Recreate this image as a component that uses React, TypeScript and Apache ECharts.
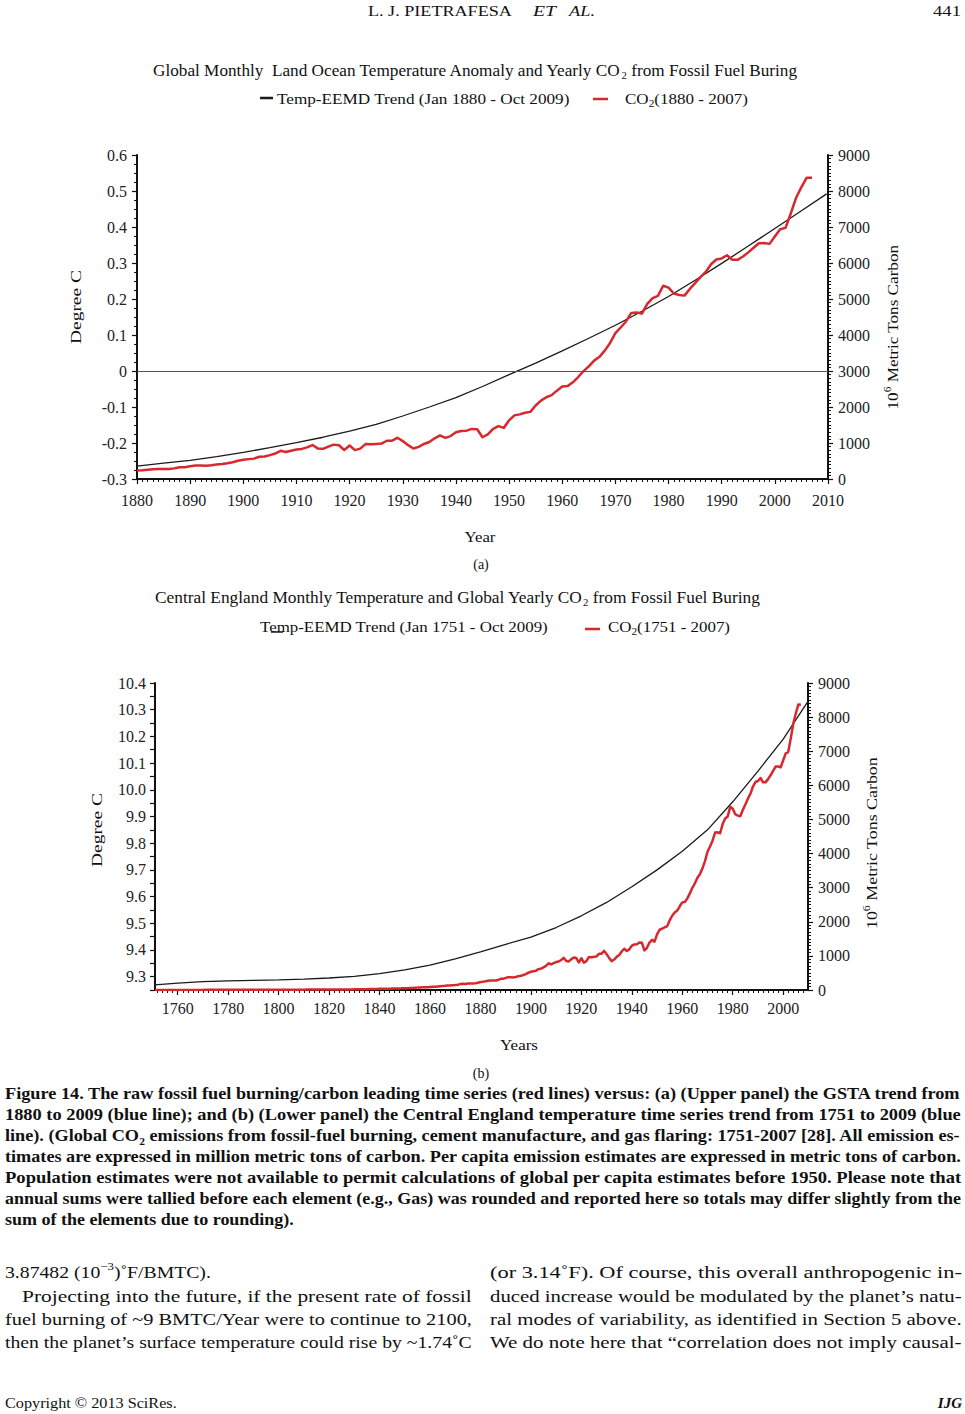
import React, { useEffect, useRef } from "react";
import * as echarts from "echarts";

const SERIF = "Liberation Serif, Times New Roman, serif";
const RED = "#d8282d";
const BLACK = "#1a1a1a";

// Global CO2 emissions from fossil fuel burning, 10^6 metric tons carbon, yearly 1751-2007
const co2StartYear = 1751;
const co2Values = [
  3, 3, 3, 3, 3, 3, 3, 3, 3, 3,
  3, 3, 3, 3, 3, 3, 3, 3, 3, 3,
  4, 4, 4, 4, 4, 4, 4, 4, 4, 4,
  5, 5, 5, 5, 5, 5, 5, 5, 5, 5,
  6, 6, 6, 6, 7, 7, 7, 8, 8, 8,
  8, 8, 8, 9, 9, 9, 10, 10, 10, 10,
  11, 11, 11, 11, 12, 13, 14, 14, 14, 14,
  14, 15, 16, 16, 17, 17, 18, 18, 18, 24,
  23, 23, 24, 24, 25, 29, 29, 30, 31, 33,
  34, 36, 37, 39, 43, 43, 46, 47, 50, 54,
  54, 57, 59, 69, 71, 76, 77, 78, 83, 91,
  95, 97, 104, 112, 119, 122, 130, 135, 142, 147,
  156, 173, 184, 174, 188, 191, 194, 196, 210, 236,
  243, 256, 272, 275, 277, 281, 295, 327, 327, 356,
  372, 374, 370, 383, 406, 419, 440, 465, 507, 534,
  552, 566, 617, 624, 663, 707, 784, 750, 785, 819,
  836, 879, 943, 850, 838, 901, 955, 936, 806, 932,
  803, 845, 970, 963, 975, 983, 1062, 1065, 1145, 1053,
  940, 847, 893, 973, 1027, 1130, 1209, 1142, 1192, 1299,
  1334, 1342, 1391, 1383, 1160, 1238, 1392, 1469, 1419, 1630,
  1767, 1795, 1841, 1865, 2042, 2177, 2270, 2330, 2454, 2569,
  2580, 2686, 2833, 2995, 3130, 3288, 3393, 3566, 3780, 4053,
  4208, 4376, 4614, 4623, 4596, 4864, 5026, 5087, 5369, 5316,
  5152, 5113, 5094, 5280, 5439, 5607, 5752, 5965, 6097, 6127,
  6216, 6088, 6087, 6182, 6295, 6422, 6550, 6553, 6531, 6735,
  6939, 6976, 7376, 7812, 8106, 8370, 8365,
];

// Panel (a): global land-ocean temperature anomaly EEMD trend (degree C)
const tempAYears = [1880, 1885, 1890, 1895, 1900, 1905, 1910, 1915, 1920, 1925, 1930, 1935, 1940, 1945, 1950, 1955, 1960, 1965, 1970, 1975, 1980, 1985, 1990, 1995, 2000, 2005, 2009.75];
const tempAValues = [-0.264, -0.256, -0.248, -0.238, -0.226, -0.213, -0.199, -0.184, -0.167, -0.148, -0.125, -0.1, -0.074, -0.043, -0.01, 0.022, 0.056, 0.091, 0.127, 0.166, 0.207, 0.252, 0.299, 0.347, 0.396, 0.445, 0.492];

// Panel (b): Central England temperature EEMD trend (degree C)
const tempBYears = [1751, 1760, 1770, 1780, 1790, 1800, 1810, 1820, 1830, 1840, 1850, 1860, 1870, 1880, 1890, 1900, 1910, 1920, 1930, 1940, 1950, 1960, 1970, 1980, 1990, 2000, 2009.75];
const tempBValues = [9.269, 9.276, 9.281, 9.284, 9.286, 9.288, 9.291, 9.295, 9.301, 9.311, 9.325, 9.343, 9.367, 9.393, 9.421, 9.448, 9.484, 9.528, 9.578, 9.637, 9.7, 9.77, 9.85, 9.955, 10.07, 10.19, 10.33];

// Tick labels of panel (b)
const tickYearsB = [1760, 1780, 1800, 1820, 1840, 1860, 1880, 1900, 1920, 1940, 1960, 1980, 2000];
const tickTempB = [9.3, 9.4, 9.5, 9.6, 9.7, 9.8, 9.9, 10.0, 10.1, 10.2, 10.3, 10.4];

const captionLines = [
  "Figure 14. The raw fossil fuel burning/carbon leading time series (red lines) versus: (a) (Upper panel) the GSTA trend from",
  "1880 to 2009 (blue line); and (b) (Lower panel) the Central England temperature time series trend from 1751 to 2009 (blue",
  "line). (Global CO_{2} emissions from fossil-fuel burning, cement manufacture, and gas flaring: 1751-2007 [28]. All emission es-",
  "timates are expressed in million metric tons of carbon. Per capita emission estimates are expressed in metric tons of carbon.",
  "Population estimates were not available to permit calculations of global per capita estimates before 1950. Please note that",
  "annual sums were tallied before each element (e.g., Gas) was rounded and reported here so totals may differ slightly from the",
  "sum of the elements due to rounding).",
];
const leftColLines = [
  "3.87482 (10^{−3})˚F/BMTC).",
  "Projecting into the future, if the present rate of fossil",
  "fuel burning of ~9 BMTC/Year were to continue to 2100,",
  "then the planet’s surface temperature could rise by ~1.74˚C",
];
const rightColLines = [
  "(or 3.14˚F). Of course, this overall anthropogenic in-",
  "duced increase would be modulated by the planet’s natu-",
  "ral modes of variability, as identified in Section 5 above.",
  "We do note here that “correlation does not imply causal-",
];

let measureCtx: CanvasRenderingContext2D | null = null;
function measure(t: string, font: string): number {
  if (!measureCtx) measureCtx = document.createElement("canvas").getContext("2d");
  measureCtx!.font = font;
  return measureCtx!.measureText(t).width;
}

type Seg = { t: string; k: "n" | "sub" | "sup" };
function parse(s: string): Seg[] {
  const out: Seg[] = [];
  const re = /([_^])\{([^}]*)\}/g;
  let last = 0;
  let m: RegExpExecArray | null;
  while ((m = re.exec(s))) {
    if (m.index > last) out.push({ t: s.slice(last, m.index), k: "n" });
    out.push({ t: m[2], k: m[1] === "_" ? "sub" : "sup" });
    last = re.lastIndex;
  }
  if (last < s.length) out.push({ t: s.slice(last), k: "n" });
  return out;
}

function fontOf(size: number, bold?: boolean, italic?: boolean) {
  return `${italic ? "italic " : ""}${bold ? "bold " : ""}${size}px ${SERIF}`;
}

interface LineOpt {
  x: number;
  y: number;
  size: number;
  bold?: boolean;
  italic?: boolean;
  align?: "left" | "center" | "right";
  width?: number;
  scale?: number;
  rotation?: number;
  color?: string;
}

function richLine(s: string, o: LineOpt): any {
  const segs = parse(s);
  const small = Math.round(o.size * 0.65);
  let cx = 0;
  const items = segs.map((sg) => {
    const f = fontOf(sg.k === "n" ? o.size : small, o.bold, o.italic);
    const w = measure(sg.t, f);
    const it = {
      t: sg.t,
      f,
      x: cx,
      dy: sg.k === "sub" ? o.size * 0.3 : sg.k === "sup" ? -o.size * 0.35 : 0,
    };
    cx += w;
    return it;
  });
  const W = cx;
  const scale = o.width ? o.width / W : o.scale ?? 1;
  const off = o.align === "center" ? -W / 2 : o.align === "right" ? -W : 0;
  return {
    type: "group",
    x: o.x,
    y: o.y,
    scaleX: scale,
    rotation: o.rotation ?? 0,
    silent: true,
    children: items.map((it) => ({
      type: "text",
      x: it.x + off,
      y: it.dy,
      style: {
        text: it.t,
        font: it.f,
        fill: o.color ?? "#111",
        align: "left",
        verticalAlign: "middle",
        textAlign: "left",
        textVerticalAlign: "middle",
      },
    })),
  };
}

function legendLine(x1: number, x2: number, y: number, color: string, w: number) {
  return {
    type: "line",
    silent: true,
    shape: { x1, y1: y, x2, y2: y },
    style: { stroke: color, lineWidth: w },
  };
}

function buildGraphics(): any[] {
  const g: any[] = [];
  // page header
  g.push(richLine("L. J. PIETRAFESA", { x: 368, y: 11, size: 15, width: 144 }));
  g.push(richLine("ET", { x: 533, y: 11, size: 15, italic: true, width: 23 }));
  g.push(richLine("AL.", { x: 569, y: 11, size: 15, italic: true, width: 26 }));
  g.push(richLine("441", { x: 961, y: 11, size: 15, align: "right", width: 28 }));

  // panel (a) texts
  g.push(richLine("Global Monthly  Land Ocean Temperature Anomaly and Yearly CO_{2} from Fossil Fuel Buring", { x: 153, y: 71, size: 16, width: 644 }));
  g.push(legendLine(260, 273, 98, BLACK, 2.5));
  g.push(richLine("Temp-EEMD Trend (Jan 1880 - Oct 2009)", { x: 277, y: 99, size: 15, width: 293 }));
  g.push(legendLine(593, 608, 99, RED, 2.5));
  g.push(richLine("CO_{2}(1880 - 2007)", { x: 625, y: 99, size: 15, width: 123 }));
  g.push(richLine("Degree C", { x: 76, y: 307, size: 15, align: "center", width: 74, rotation: Math.PI / 2 }));
  g.push(richLine("Year", { x: 480, y: 537, size: 15, align: "center", width: 31 }));
  g.push(richLine("10^{6} Metric Tons Carbon", { x: 893, y: 327, size: 15, align: "center", width: 165, rotation: Math.PI / 2 }));
  g.push(richLine("(a)", { x: 481, y: 564, size: 14, align: "center" }));

  // panel (b) texts
  g.push(richLine("Central England Monthly Temperature and Global Yearly CO_{2} from Fossil Fuel Buring", { x: 155, y: 598, size: 16, width: 605 }));
  g.push(richLine("Temp-EEMD Trend (Jan 1751 - Oct 2009)", { x: 260, y: 627, size: 15, width: 288 }));
  g.push(legendLine(271, 283, 632, BLACK, 1.5));
  g.push(legendLine(585, 600, 629, RED, 2.5));
  g.push(richLine("CO_{2}(1751 - 2007)", { x: 608, y: 627, size: 15, width: 122 }));
  g.push(richLine("Degree C", { x: 97, y: 830, size: 15, align: "center", width: 74, rotation: Math.PI / 2 }));
  g.push(richLine("Years", { x: 519, y: 1045, size: 15, align: "center", width: 38 }));
  g.push(richLine("10^{6} Metric Tons Carbon", { x: 872, y: 843, size: 15, align: "center", width: 172, rotation: Math.PI / 2 }));
  g.push(richLine("(b)", { x: 481, y: 1073, size: 14, align: "center" }));

  // caption
  let lastScale = 1;
  captionLines.forEach((ln, i) => {
    const y = 1094 + i * 21;
    if (i < captionLines.length - 1) {
      const el = richLine(ln, { x: 5, y, size: 16, bold: true, width: 957 });
      lastScale = el.scaleX;
      g.push(el);
    } else {
      g.push(richLine(ln, { x: 5, y, size: 16, bold: true, scale: lastScale }));
    }
  });

  // body text, two columns
  const bodyY = [1272, 1296, 1319, 1342];
  let s2 = 1;
  leftColLines.forEach((ln, i) => {
    if (i === 0) return;
    const x0 = i === 1 ? 22 : 5;
    const el = richLine(ln, { x: x0, y: bodyY[i], size: 17, width: 472 - x0 });
    s2 = el.scaleX;
    g.push(el);
  });
  g.push(richLine(leftColLines[0], { x: 5, y: bodyY[0], size: 17, scale: s2 }));
  rightColLines.forEach((ln, i) => {
    g.push(richLine(ln, { x: 490, y: bodyY[i], size: 17, width: 472 }));
  });

  // footer
  g.push(richLine("Copyright © 2013 SciRes.", { x: 5, y: 1403, size: 15, width: 172 }));
  g.push(richLine("IJG", { x: 962, y: 1403, size: 15, bold: true, italic: true, align: "right" }));
  return g;
}

const axisLineStyle = { show: true, onZero: false, lineStyle: { color: "#111", width: 2 } };
const tickStyle = { color: "#111", width: 1.2 };
const labelStyle = { fontFamily: SERIF, fontSize: 16, color: "#222" };
const plain = (v: number) => String(v);

function buildOption(): any {
  const minorYearsB: number[] = [];
  for (let y = 1752; y <= 2008; y += 2) minorYearsB.push(y);
  const tempTicksB: number[] = [];
  for (let k = 925; k <= 1040; k += 5) tempTicksB.push(k / 100);

  const co2Pairs = co2Values.map((v, i) => [co2StartYear + i, v]);
  const co2PairsA = co2Pairs.filter((p) => p[0] >= 1880);

  return {
    animation: false,
    backgroundColor: "#ffffff",
    grid: [
      { left: 137, top: 155, width: 691, height: 324 },
      { left: 155, top: 683, width: 653, height: 307 },
    ],
    xAxis: [
      {
        gridIndex: 0,
        type: "value",
        min: 1880,
        max: 2010,
        interval: 10,
        axisLine: axisLineStyle,
        axisTick: { show: true, length: 5, lineStyle: tickStyle },
        minorTick: { show: true, splitNumber: 10, length: 3, lineStyle: { color: "#111", width: 1 } },
        axisLabel: { ...labelStyle, margin: 13, formatter: plain },
        splitLine: { show: false },
      },
      {
        gridIndex: 1,
        type: "value",
        min: 1751,
        max: 2009.83,
        axisLine: axisLineStyle,
        axisTick: { show: true, length: 5, lineStyle: tickStyle, customValues: tickYearsB },
        axisLabel: { ...labelStyle, margin: 10, customValues: tickYearsB, formatter: plain },
        splitLine: { show: false },
      },
      {
        gridIndex: 1,
        type: "value",
        position: "bottom",
        min: 1751,
        max: 2009.83,
        axisLine: { show: false, onZero: false },
        axisTick: { show: true, length: 3, lineStyle: { color: "#111", width: 1 }, customValues: minorYearsB },
        axisLabel: { show: false },
        splitLine: { show: false },
      },
    ],
    yAxis: [
      {
        gridIndex: 0,
        type: "value",
        position: "left",
        min: -0.3,
        max: 0.6,
        interval: 0.1,
        axisLine: axisLineStyle,
        axisTick: { show: true, length: 5, lineStyle: tickStyle },
        minorTick: { show: true, splitNumber: 4, length: 3, lineStyle: { color: "#111", width: 1 } },
        axisLabel: {
          ...labelStyle,
          margin: 10,
          formatter: (v: number) => {
            const r = Math.round(v * 10) / 10;
            return r === 0 ? "0" : String(r);
          },
        },
        splitLine: { show: false },
      },
      {
        gridIndex: 0,
        type: "value",
        position: "right",
        min: 0,
        max: 9000,
        interval: 1000,
        axisLine: axisLineStyle,
        axisTick: { show: true, length: 5, lineStyle: tickStyle },
        minorTick: { show: true, splitNumber: 10, length: 3, lineStyle: { color: "#111", width: 1 } },
        axisLabel: { ...labelStyle, margin: 10, formatter: plain },
        splitLine: { show: false },
      },
      {
        gridIndex: 1,
        type: "value",
        position: "left",
        min: 9.25,
        max: 10.4,
        axisLine: axisLineStyle,
        axisTick: { show: true, length: 5, lineStyle: tickStyle, customValues: tempTicksB },
        axisLabel: { ...labelStyle, margin: 9, customValues: tickTempB, formatter: (v: number) => v.toFixed(1) },
        splitLine: { show: false },
      },
      {
        gridIndex: 1,
        type: "value",
        position: "right",
        min: 0,
        max: 9000,
        interval: 1000,
        axisLine: axisLineStyle,
        axisTick: { show: true, length: 5, lineStyle: tickStyle },
        minorTick: { show: true, splitNumber: 10, length: 3, lineStyle: { color: "#111", width: 1 } },
        axisLabel: { ...labelStyle, margin: 10, formatter: plain },
        splitLine: { show: false },
      },
    ],
    series: [
      {
        name: "Temp-EEMD Trend (Jan 1880 - Oct 2009)",
        type: "line",
        xAxisIndex: 0,
        yAxisIndex: 0,
        data: tempAYears.map((y, i) => [y, tempAValues[i]]),
        showSymbol: false,
        lineStyle: { color: BLACK, width: 1.3 },
        markLine: {
          silent: true,
          symbol: "none",
          label: { show: false },
          lineStyle: { color: "#555", width: 1, type: "solid" },
          data: [{ yAxis: 0 }],
        },
      },
      {
        name: "CO2(1880 - 2007)",
        type: "line",
        xAxisIndex: 0,
        yAxisIndex: 1,
        data: co2PairsA,
        showSymbol: false,
        lineStyle: { color: RED, width: 2.5, join: "round" },
      },
      {
        name: "Temp-EEMD Trend (Jan 1751 - Oct 2009)",
        type: "line",
        xAxisIndex: 1,
        yAxisIndex: 2,
        data: tempBYears.map((y, i) => [y, tempBValues[i]]),
        showSymbol: false,
        lineStyle: { color: BLACK, width: 1.3 },
      },
      {
        name: "CO2(1751 - 2007)",
        type: "line",
        xAxisIndex: 1,
        yAxisIndex: 3,
        data: co2Pairs,
        showSymbol: false,
        lineStyle: { color: RED, width: 2.5, join: "round" },
      },
    ],
    graphic: { elements: buildGraphics() },
  };
}

export default function App() {
  const ref = useRef<HTMLDivElement>(null);
  useEffect(() => {
    document.body.style.margin = "0";
    const chart = echarts.init(ref.current!, null, { renderer: "svg" });
    chart.setOption(buildOption());
    return () => chart.dispose();
  }, []);
  return <div ref={ref} style={{ width: 965, height: 1414, background: "#fff" }} />;
}
